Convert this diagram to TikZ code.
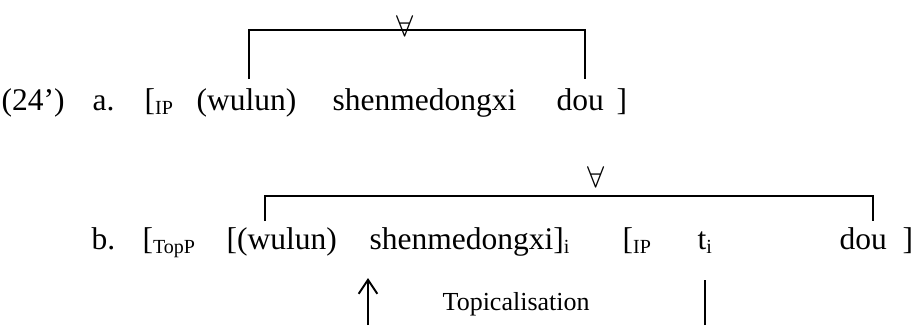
\documentclass[tikz,border=0pt]{standalone}
\usepackage{fontspec}
\setmainfont{Liberation Serif}
\usepackage{tikz}
\usetikzlibrary{arrows.meta}
\newcommand{\lsub}[1]{\raisebox{-1.3pt}{\fontsize{6}{7}\selectfont #1}}
\tikzstyle{word} = [inner sep=0pt, anchor=base west, font=\fontsize{9.45}{11}\selectfont]
\tikzstyle{quant} = [inner sep=0pt, font=\fontsize{9.5}{11}\selectfont]
\tikzstyle{scope line} = [line width=0.6pt]

\begin{document}
\begin{tikzpicture}[x=0.3pt, y=-0.3pt]
   \useasboundingbox (0,0) rectangle (914,325);
   % (24') a.
   \node[word] (num)  at (1,110)   {(24’)};
   \node[word] (la)   at (92,110)  {a.};
   \node[word] (ipa)  at (144,110) {[\lsub{IP}};
   \node[word] (wa)   at (196,110) {(wulun)};
   \node[word] (sa)   at (332,110) {shenmedongxi};
   \node[word] (da)   at (556,110) {dou};
   \node[word] (ra)   at (616,110) {]};
   % b.
   \node[word] (lb)   at (91,249)  {b.};
   \node[word] (top)  at (142,249) {[\lsub{TopP}};
   \node[word] (wb)   at (226,249) {[(wulun)};
   \node[word] (sb)   at (369,249) {shenmedongxi]\lsub{i}};
   \node[word] (ipb)  at (622,249) {[\lsub{IP}};
   \node[word] (t)    at (697,249) {t\lsub{i}};
   \node[word] (db)   at (839,249) {dou};
   \node[word] (rb)   at (902,249) {]};
   % scope brackets
   \coordinate (qa1) at (249,79);
   \coordinate (qa2) at (585,79);
   \coordinate (qb1) at (265,221);
   \coordinate (qb2) at (873,221);
   \draw[scope line] (qa1) -- (249,30) -- (585,30) -- (qa2);
   \draw[scope line] (qb1) -- (265,196) -- (873,196) -- (qb2);
   \node[quant] (fa) at (405,26)  {$\forall$};
   \node[quant] (fb) at (596,177) {$\forall$};
   % movement
   \coordinate (mv1) at (368,325);
   \coordinate (mv2) at (368,278);
   \coordinate (tr1) at (705,325);
   \coordinate (tr2) at (705,280);
   \draw[scope line, -{Straight Barb[length=4.2pt, width=5.6pt]}] (mv1) -- (mv2);
   \draw[scope line] (tr1) -- (tr2);
   \node[word, font=\fontsize{7.8}{9}\selectfont] (mv) at (442,310) {Topicalisation};
\end{tikzpicture}
\end{document}
